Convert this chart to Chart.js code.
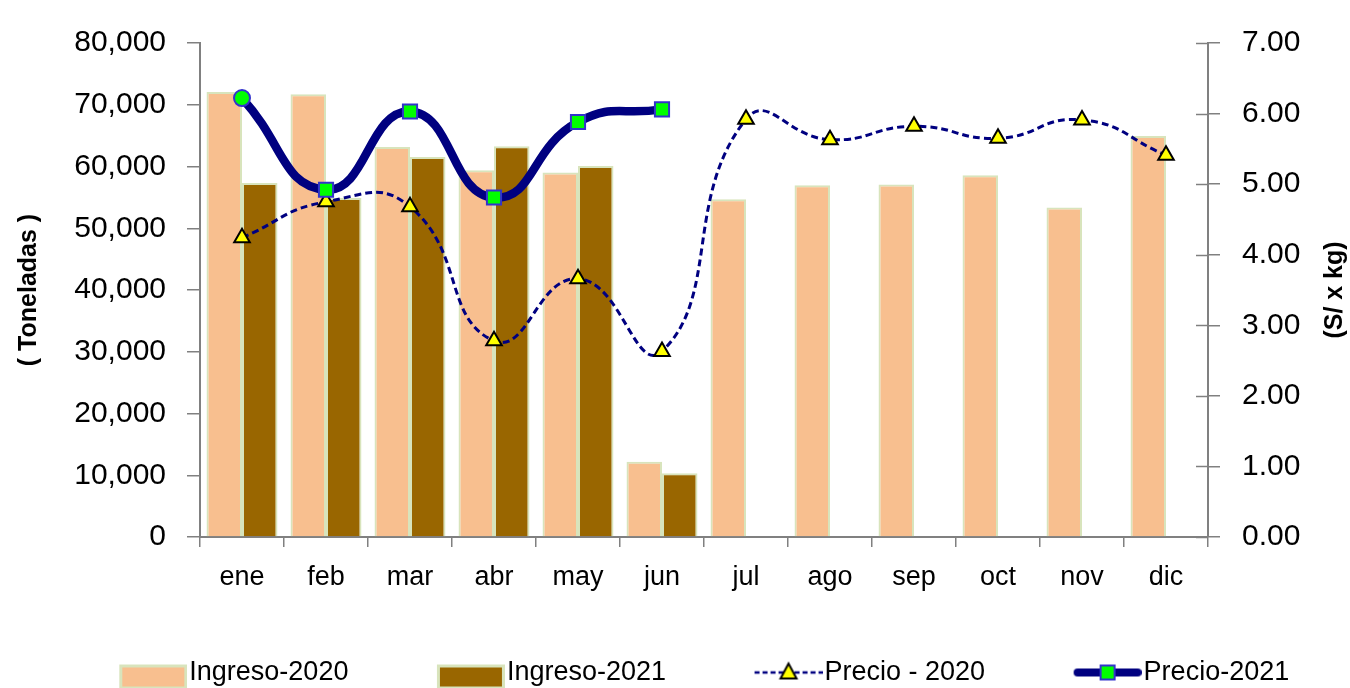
<!DOCTYPE html>
<html><head><meta charset="utf-8">
<script src="https://cdn.jsdelivr.net/npm/chart.js@4/dist/chart.umd.min.js"></script>
<style>html,body{margin:0;padding:0;overflow:hidden;background:#fff}#wrap{width:1350px;height:696px;position:relative}</style>
</head><body><div id="wrap"><canvas id="c"></canvas></div>
<script>
const months = ['ene','feb','mar','abr','may','jun','jul','ago','sep','oct','nov','dic'];
const ingreso2020 = [72070, 71700, 63170, 59400, 59020, 12190, 54700, 56970, 57080, 58590, 53360, 64950];
const ingreso2021 = [57340, 54910, 61550, 63280, 60090, 10310, null, null, null, null, null, null];
const precio2020 = [4.24, 4.75, 4.68, 2.78, 3.66, 2.63, 5.92, 5.63, 5.82, 5.65, 5.91, 5.41];
const precio2021 = [6.22, 4.92, 6.03, 4.81, 5.88, 6.06, null, null, null, null, null, null];
const toneladasMin = 0, toneladasMax = 80000, toneladasStep = 10000;
const precioMin = 0, precioMax = 7, precioStep = 1;
const seriesNames = ['Ingreso-2020', 'Ingreso-2021', 'Precio - 2020', 'Precio-2021'];
const leftTitle = '( Toneladas )';
const rightTitle = '(S/ x kg)';

const FONT = '"Liberation Sans", Arial, sans-serif';
const NAVY = '#000080';
const PEACH = '#F8BF8F';
const BROWN = '#996600';
const BARBORDER = '#D8E4BC';
const AXIS = '#808080';

function legendImg(kind) {
  const W2 = 138, H = 30;
  const c = document.createElement('canvas');
  c.width = W2; c.height = H;
  const g = c.getContext('2d');
  const x0 = 70, x1 = 138, cy = 15, mid = 104;
  if (kind === 0 || kind === 1) {
    g.fillStyle = kind === 0 ? PEACH : BROWN;
    g.fillRect(x0 + 1.5, 8, x1 - x0 - 3, 22);
    g.strokeStyle = BARBORDER; g.lineWidth = 3;
    g.strokeRect(x0 + 1.5, 8.5, x1 - x0 - 3, 22);
  } else if (kind === 2) {
    g.strokeStyle = NAVY; g.lineWidth = 2.5; g.setLineDash([5, 3]);
    g.beginPath(); g.moveTo(x0, cy); g.lineTo(x1, cy); g.stroke();
    g.setLineDash([]);
    g.beginPath(); g.moveTo(mid, cy - 9); g.lineTo(mid - 8, cy + 6); g.lineTo(mid + 8, cy + 6); g.closePath();
    g.fillStyle = '#FFFF00'; g.fill(); g.strokeStyle = '#000'; g.lineWidth = 2; g.stroke();
  } else {
    g.strokeStyle = NAVY; g.lineWidth = 8; g.lineCap = 'round';
    g.beginPath(); g.moveTo(x0 + 4, cy); g.lineTo(x1 - 4, cy); g.stroke();
    g.fillStyle = '#00FF00'; g.fillRect(mid - 7, cy - 7, 14, 14);
    g.strokeStyle = '#3333CC'; g.lineWidth = 2; g.strokeRect(mid - 7, cy - 7, 14, 14);
  }
  return c;
}
const legendImages = [0, 1, 2, 3].map(legendImg);

const p21Styles = precio2021.map((v, i) => i === 0 ? 'circle' : 'rect');
const p21Radius = precio2021.map((v, i) => i === 0 ? 8 : 10);

const rightTitlePlugin = {
  id: 'rightTitle',
  afterDraw(chart) {
    const { ctx, chartArea } = chart;
    ctx.save();
    ctx.translate(1335, (chartArea.top + chartArea.bottom) / 2);
    ctx.rotate(-Math.PI / 2);
    ctx.font = 'bold 25px ' + FONT;
    ctx.fillStyle = '#000';
    ctx.textAlign = 'center';
    ctx.textBaseline = 'middle';
    ctx.fillText(rightTitle, 0, 0);
    ctx.restore();
  },
  beforeDatasetsDraw(chart) {
    // inner half of the crossing tick marks on the right axis
    const s = chart.scales.y1, ctx = chart.ctx, r = chart.chartArea.right;
    ctx.save();
    ctx.strokeStyle = AXIS; ctx.lineWidth = 1.5;
    s.ticks.forEach((t, i) => {
      const y = Math.round(s.getPixelForTick(i)) + 0.5;
      ctx.beginPath(); ctx.moveTo(r - 12, y); ctx.lineTo(r, y); ctx.stroke();
    });
    ctx.restore();
  }
};

new Chart(document.getElementById('c'), {
  type: 'bar',
  data: {
    labels: months,
    datasets: [
      { type: 'bar', label: seriesNames[0], data: ingreso2020, yAxisID: 'y', order: 2,
        backgroundColor: PEACH, borderColor: BARBORDER, borderWidth: 2,
        categoryPercentage: 0.845, barPercentage: 1 },
      { type: 'bar', label: seriesNames[1], data: ingreso2021, yAxisID: 'y', order: 3,
        backgroundColor: BROWN, borderColor: BARBORDER, borderWidth: 2,
        categoryPercentage: 0.845, barPercentage: 1 },
      { type: 'line', label: seriesNames[2], data: precio2020, yAxisID: 'y1', order: 1,
        borderColor: NAVY, borderWidth: 3, borderDash: [7, 4], tension: 0.5, fill: false,
        pointStyle: 'triangle', pointRadius: 9, pointBackgroundColor: '#FFFF00',
        pointBorderColor: '#000', pointBorderWidth: 2, clip: false },
      { type: 'line', label: seriesNames[3], data: precio2021, yAxisID: 'y1', order: 0,
        borderColor: NAVY, borderWidth: 8.5, tension: 0.5, fill: false, spanGaps: false,
        pointStyle: p21Styles, pointRadius: p21Radius, pointBackgroundColor: '#00FF00',
        pointBorderColor: '#3333CC', pointBorderWidth: 2, clip: false }
    ]
  },
  options: {
    responsive: true, maintainAspectRatio: false, animation: false,
    layout: { padding: { top: 43, left: 0, right: 0, bottom: 0 } },
    plugins: {
      tooltip: { enabled: false },
      legend: {
        position: 'bottom',
        labels: {
          usePointStyle: true, pointStyleWidth: 115, padding: 30, color: '#000',
          font: { family: FONT, size: 27 },
          sort: (a, b) => a.datasetIndex - b.datasetIndex,
          generateLabels: (chart) => Chart.defaults.plugins.legend.labels.generateLabels(chart)
            .map(it => Object.assign(it, { pointStyle: legendImages[it.datasetIndex], fontColor: '#000' }))
        }
      }
    },
    scales: {
      x: {
        grid: { display: true, drawOnChartArea: false, tickLength: 10, color: AXIS, lineWidth: 1.5, offset: true },
        border: { color: AXIS, width: 2 },
        ticks: { color: '#000', font: { family: FONT, size: 27 }, padding: 14 },
        afterFit: s => { s.height = 92; }
      },
      y: {
        position: 'left', min: toneladasMin, max: toneladasMax,
        grid: { display: true, drawOnChartArea: false, tickLength: 13, color: AXIS, lineWidth: 1.5 },
        border: { color: AXIS, width: 2 },
        ticks: { stepSize: toneladasStep, color: '#000', font: { family: FONT, size: 30 }, padding: 21,
                 callback: v => Number(v).toLocaleString('en-US') },
        title: { display: true, text: leftTitle, color: '#000',
                 font: { family: FONT, size: 25, weight: 'bold', lineHeight: 1 }, padding: { top: 17, bottom: 0 } },
        afterFit: s => { s.width = 200; }
      },
      y1: {
        position: 'right', min: precioMin, max: precioMax,
        grid: { display: true, drawOnChartArea: false, tickLength: 12, color: AXIS, lineWidth: 1.5 },
        border: { color: AXIS, width: 2 },
        ticks: { stepSize: precioStep, color: '#000', font: { family: FONT, size: 30 }, padding: 22,
                 callback: v => Number(v).toFixed(2) },
        afterFit: s => { s.width = 142; }
      }
    }
  },
  plugins: [rightTitlePlugin]
});
</script></body></html>
